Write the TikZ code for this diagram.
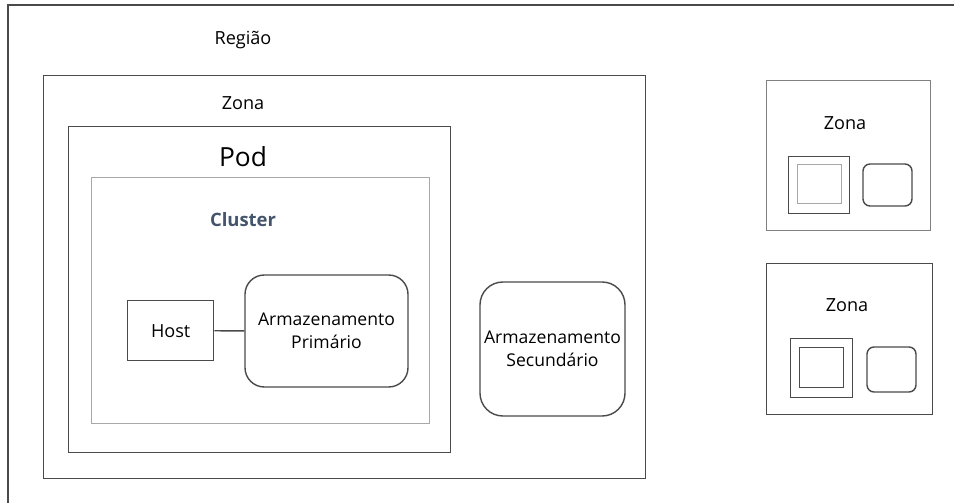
\documentclass[tikz,border=0pt]{standalone}
\usepackage{fontspec}
\setmainfont{Open Sans}
\usepackage{xcolor}
\usetikzlibrary{positioning}
\definecolor{framegray}{HTML}{4A4A4A}
\definecolor{lightframe}{HTML}{A8A8A8}
\definecolor{clustertext}{HTML}{44546A}
\tikzset{
  boxline/.style={draw=framegray, line width=0.8pt},
  zonebox/.style={boxline, inner sep=0pt, anchor=north west},
  roundbox/.style={boxline, rounded corners=11pt, inner sep=0pt, align=center, font=\fontsize{10}{13}\selectfont},
  txtlabel/.style={font=\fontsize{10.3}{13}\selectfont, inner sep=0pt}
}

\begin{document}
\begin{tikzpicture}[x=0.02cm, y=-0.02cm]
                        \useasboundingbox (0,0) rectangle (954,503);
                        {\fontsize{10}{13}\selectfont

                        % Drawing frame Regiao (only top and left sides show)
                        \coordinate (regbl) at (8,503);
                        \coordinate (regtl) at (8,5);
                        \coordinate (regtr) at (954,5);
                        \draw [boxline] (regbl) -- (regtl) -- (regtr);%
                        \node [txtlabel] (regiao) at (243,40) {Região};%

                        % Drawing box Zona
                        \node [zonebox, minimum width=602*0.02cm, minimum height=403*0.02cm] (zona) at (43,75) {};%
                        \node [txtlabel] (zonatxt) at (243,103) {Zona};%

                        % Drawing box Pod
                        \node [zonebox, minimum width=382*0.02cm, minimum height=326*0.02cm] (pod) at (68,126) {};%
                        \node [txtlabel, font=\fontsize{15}{18}\selectfont] (podtxt) at (243,157) {Pod};%

                        % Drawing box Cluster
                        \node [zonebox, draw=lightframe, minimum width=338*0.02cm, minimum height=246*0.02cm] (cluster) at (91,177) {};%
                        \node [txtlabel, font=\fontsize{10.5}{12}\bfseries, text=clustertext] (clustertxt) at (243,220) {Cluster};%

                        % Drawing box Host
                        \node [zonebox, minimum width=86*0.02cm, minimum height=60*0.02cm] (host) at (127,300) {};%
                        \node [txtlabel] (hosttxt) at (host.center) {Host};%

                        % Drawing box Armazenamento Primario
                        \node [roundbox, minimum width=163*0.02cm, minimum height=112*0.02cm] (prim) at (326.5,331) {Armazenamento\\Primário};%

                        % Drawing line Host Prim
                        \draw [boxline] (host) -- (prim);%

                        % Drawing box Armazenamento Secundario
                        \node [roundbox, rounded corners=13pt, minimum width=145*0.02cm, minimum height=134*0.02cm] (sec) at (552.5,349) {Armazenamento\\Secundário};%

                        % Drawing small Zona top
                        \node [zonebox, draw=framegray!70, minimum width=164*0.02cm, minimum height=150*0.02cm] (zonaa) at (766,80) {};%
                        \node [txtlabel] (zonaatxt) at (845,123) {Zona};%
                        \node [zonebox, minimum width=61*0.02cm, minimum height=57*0.02cm] (poda) at (788,156) {};%
                        \node [zonebox, draw=lightframe, minimum width=44*0.02cm, minimum height=39*0.02cm] (clustera) at (797,164) {};%
                        \node [boxline, rounded corners=4pt, inner sep=0pt, minimum width=49*0.02cm, minimum height=42*0.02cm] (stora) at (887.5,185) {};%

                        % Drawing small Zona bottom
                        \node [zonebox, minimum width=166*0.02cm, minimum height=151*0.02cm] (zonab) at (766,263) {};%
                        \node [txtlabel] (zonabtxt) at (847,305) {Zona};%
                        \node [zonebox, minimum width=62*0.02cm, minimum height=59*0.02cm] (podb) at (790,338) {};%
                        \node [zonebox, minimum width=44*0.02cm, minimum height=40*0.02cm] (clusterb) at (799,347) {};%
                        \node [boxline, rounded corners=4pt, inner sep=0pt, minimum width=49*0.02cm, minimum height=45*0.02cm] (storb) at (891.5,369.5) {};%
                        }
\end{tikzpicture}
\end{document}
